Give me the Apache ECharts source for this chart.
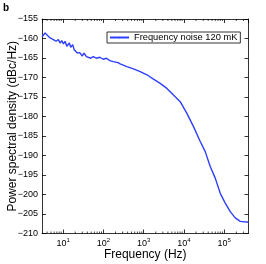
<!DOCTYPE html>
<html><head><meta charset="utf-8">
<script src="https://cdn.jsdelivr.net/npm/echarts@6/dist/echarts.min.js"></script>
<style>html,body{margin:0;padding:0;background:#fff}#c{width:266px;height:264px}</style>
</head><body><div id="c"></div>
<script>
const freq = [3.0, 3.24, 3.57, 4.07, 4.75, 5.74, 6.7, 7.64, 8.43, 9.28, 10.2, 11.2, 12.4, 14.3, 15.5, 17.4, 18.8, 21.0, 22.7, 26.0, 29.6, 33.2, 37.9, 41.8, 48.8, 55.6, 67.1, 81.6, 98.6, 119, 145, 175, 232, 261, 383, 558, 819, 1202, 1752, 2570, 3767, 5500, 8070, 11830, 17270, 25350, 33750, 44900, 59800, 79600, 105900, 141000, 187600, 250000, 402000];
const psd = [-159.6, -159.17, -158.59, -159.17, -159.87, -160.3, -160.71, -160.3, -161.15, -160.56, -161.4, -160.71, -161.99, -161.15, -162.25, -161.58, -162.86, -162.43, -163.71, -163.63, -164.48, -163.78, -164.65, -164.22, -165.06, -164.65, -165.06, -164.81, -165.32, -165.06, -165.68, -165.94, -166.19, -166.5, -167.2, -167.8, -168.5, -169.3, -170.4, -171.5, -172.8, -174.5, -176.2, -179.2, -182.6, -186.4, -189, -192.8, -195.8, -199.7, -202.2, -204.4, -206, -206.9, -207.1];
const seriesName = 'Frequency noise 120 mK';
const xMin = 3, xMax = 400000;
const minorFreqs = [];
[1, 10, 100, 1000, 10000, 100000].forEach(d => { for (let k = 2; k <= 9; k++) { const f = d * k; if (f > xMin && f < xMax) minorFreqs.push(f); } });

const font = 'Liberation Sans, Arial, sans-serif';
const chart = echarts.init(document.getElementById('c'), null, {renderer: 'canvas'});
const sup = {b: {fontSize: 9, fontFamily: font, color: '#000'}, s: {fontSize: 6, fontFamily: font, color: '#000', verticalAlign: 'top', padding: [0, 0, 6, 0]}};
chart.setOption({
  animation: false,
  grid: {left: 42, right: 17.5, top: 19, bottom: 30.5, containLabel: false, outerBoundsMode: 'none'},
  graphic: [{type: 'text', left: 3, top: 3, style: {text: 'b', font: 'bold 10px ' + font, fill: '#000'}}],
  legend: {
    data: [seriesName], left: 107, top: 32, width: 133, height: 13,
    itemWidth: 19, itemHeight: 2, itemGap: 0, padding: [1, 3, 1, 2],
    borderColor: '#000', borderWidth: 0.8, backgroundColor: '#fff',
    textStyle: {fontSize: 9.3, fontFamily: font, color: '#000'}
  },
  xAxis: [{
    type: 'log', logBase: 10, min: xMin, max: xMax,
    name: 'Frequency (Hz)', nameLocation: 'middle', nameGap: 15, nameMoveOverlap: false,
    nameTextStyle: {fontSize: 12, fontFamily: font, color: '#000', verticalAlign: 'top'},
    axisLine: {lineStyle: {color: '#000', width: 0.8}},
    axisTick: {inside: true, length: 4, lineStyle: {color: '#000', width: 0.8}},
    splitLine: {show: false},
    axisLabel: {showMinLabel: false, showMaxLabel: false, margin: 4, rich: sup,
      formatter: v => { const e = Math.round(Math.log10(v)); return Math.abs(Math.pow(10, e) - v) / v < 1e-6 ? '{b|10}{s|' + e + '}' : ''; }}
  }, {
    type: 'log', logBase: 10, min: xMin, max: xMax, position: 'top',
    axisLine: {lineStyle: {color: '#000', width: 0.8}},
    axisTick: {inside: true, length: 4, lineStyle: {color: '#000', width: 0.8}},
    axisLabel: {show: false}, splitLine: {show: false}
  }],
  yAxis: [{
    type: 'value', min: -210, max: -155, interval: 5,
    name: 'Power spectral density (dBc/Hz)', nameLocation: 'middle', nameGap: 23, nameMoveOverlap: false,
    nameTextStyle: {fontSize: 12, fontFamily: font, color: '#000'},
    axisLine: {show: true, lineStyle: {color: '#000', width: 0.8}},
    axisTick: {show: true, inside: true, length: 4, lineStyle: {color: '#000', width: 0.8}},
    splitLine: {show: false},
    axisLabel: {fontSize: 9, fontFamily: font, color: '#000', margin: 4, formatter: v => String(v).replace('-', '\u2212')}
  }, {
    type: 'value', min: -210, max: -155, interval: 5, position: 'right',
    axisLine: {show: true, lineStyle: {color: '#000', width: 0.8}},
    axisTick: {show: true, inside: true, length: 4, lineStyle: {color: '#000', width: 0.8}},
    axisLabel: {show: false}, splitLine: {show: false}
  }],
  series: [{
    name: seriesName, type: 'line', showSymbol: false, symbol: 'none',
    data: freq.map((f, i) => [f, psd[i]]),
    lineStyle: {color: '#2f3fff', width: 1.4}, itemStyle: {color: '#2f3fff'}
  }, {
    type: 'custom', silent: true, xAxisIndex: 0, yAxisIndex: 0,
    encode: {x: 0, y: 1},
    data: minorFreqs.map(f => [f, -180]),
    renderItem: (params, api) => {
      const p = api.coord([api.value(0), -210]);
      const q = api.coord([api.value(0), -155]);
      const st = {stroke: '#000', lineWidth: 0.7};
      return {type: 'group', children: [
        {type: 'line', shape: {x1: p[0], y1: p[1], x2: p[0], y2: p[1] - 2}, style: st},
        {type: 'line', shape: {x1: q[0], y1: q[1], x2: q[0], y2: q[1] + 2}, style: st}
      ]};
    }
  }]
});
</script></body></html>
